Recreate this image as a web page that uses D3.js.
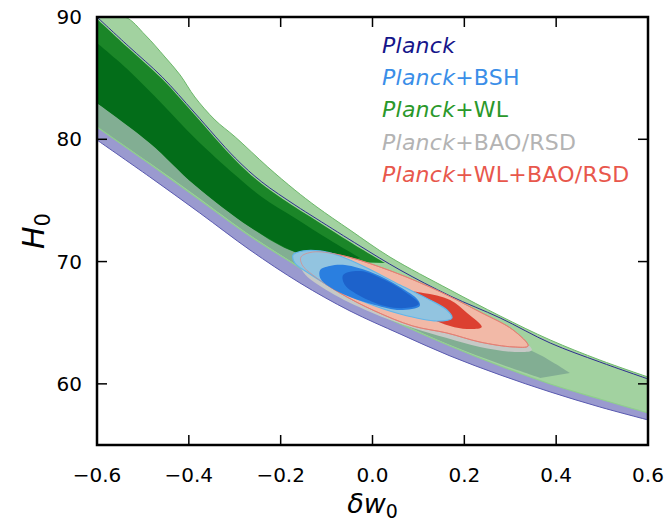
<!DOCTYPE html>
<html><head><meta charset="utf-8">
<script src="https://cdn.jsdelivr.net/npm/d3@7"></script>
<style>
html,body{margin:0;padding:0;background:#fff;}
svg{display:block;font-family:"DejaVu Sans",sans-serif;}
</style></head>
<body>
<svg id="chart" width="665" height="526"></svg>
<script>
// ---------- data (δw0, H0) ----------
const xTicks = [-0.6, -0.4, -0.2, 0.0, 0.2, 0.4, 0.6];
const yTicks = [60, 70, 80, 90];
const legendLabels = ["Planck", "Planck+BSH", "Planck+WL", "Planck+BAO/RSD", "Planck+WL+BAO/RSD"];

// Planck 2σ band
const planckUpper = [[-0.600,90.00],[-0.532,87.63],[-0.458,85.09],[-0.387,82.15],[-0.299,78.47],[-0.241,76.51],[-0.169,74.63],[-0.121,73.48],[-0.027,71.27],[0.060,69.31],[0.169,67.19],[0.278,65.39],[0.387,63.34],[0.495,61.79],[0.600,60.40]];
const planckLower = [[-0.600,79.94],[-0.485,76.92],[-0.376,73.97],[-0.267,70.95],[-0.158,68.25],[-0.049,65.96],[0.060,64.08],[0.169,62.28],[0.278,60.73],[0.387,59.34],[0.495,58.11],[0.600,57.05]];
// Planck+WL 2σ band
const wlUpper = [[-0.600,90.00],[-0.539,90.00],[-0.495,88.53],[-0.452,86.73],[-0.419,85.26],[-0.387,83.46],[-0.343,81.58],[-0.299,80.19],[-0.228,77.73],[-0.169,75.85],[-0.121,74.46],[-0.049,72.58],[0.038,70.37],[0.169,67.68],[0.278,65.55],[0.387,63.59],[0.495,61.95],[0.600,60.56]];
const wlLower = [[-0.600,81.01],[-0.485,77.98],[-0.376,75.04],[-0.267,72.09],[-0.158,69.48],[-0.049,66.86],[0.060,64.90],[0.169,63.10],[0.278,61.46],[0.387,59.99],[0.495,58.76],[0.600,57.62]];
// Planck+BAO/RSD region
const baoUpper = [[-0.600,82.97],[-0.485,79.70],[-0.387,76.26],[-0.267,72.83],[-0.169,70.78],[-0.049,68.49],[0.060,66.86],[0.169,65.06],[0.278,63.75],[0.365,62.36],[0.430,60.89]];
const baoLower = [[-0.600,81.01],[-0.485,78.06],[-0.387,75.44],[-0.267,72.17],[-0.158,69.56],[-0.049,66.94],[0.060,64.98],[0.169,63.18],[0.278,61.62],[0.365,60.48]];
// Planck+WL 1σ
const wlMidUpper = [[-0.600,89.84],[-0.532,87.47],[-0.458,84.93],[-0.387,81.99],[-0.299,78.31],[-0.241,76.34],[-0.169,74.46],[-0.121,73.32],[-0.049,71.60],[0.027,69.88]];
const wlMidLower = [[-0.600,82.97],[-0.485,79.70],[-0.387,76.26],[-0.267,72.83],[-0.169,70.78],[-0.049,69.97]];
const wlDarkUpper = [[-0.600,87.87],[-0.532,85.67],[-0.458,82.89],[-0.387,80.11],[-0.299,77.08],[-0.241,75.28],[-0.169,73.56],[-0.093,71.76],[-0.027,70.29]];
const wlDarkLower = [[-0.600,82.97],[-0.485,79.70],[-0.387,76.26],[-0.267,72.83],[-0.169,70.78],[-0.093,69.97]];
// Planck+BAO/RSD light outer strip
const baoOuter = [[-0.158,70.29],[0.016,69.31],[0.169,66.86],[0.306,64.16],[0.347,62.77],[0.310,62.61],[0.234,63.02],[0.162,63.75],[0.088,64.57],[-0.005,65.88],[-0.093,67.51],[-0.151,69.15]];
// Planck+WL+BAO/RSD
const combo2 = [[-0.156,70.37],[-0.130,70.78],[-0.071,70.54],[0.016,69.56],[0.125,67.92],[0.234,65.88],[0.306,64.41],[0.339,63.10],[0.306,63.02],[0.234,63.42],[0.162,64.16],[0.088,64.73],[0.005,65.96],[-0.071,67.43],[-0.130,68.90],[-0.153,69.72]];
const combo1 = [[0.060,67.51],[0.110,67.43],[0.169,66.86],[0.206,65.80],[0.238,64.65],[0.206,64.49],[0.169,64.73],[0.125,65.39],[0.082,66.45]];
// Planck+BSH
const bsh2 = [[-0.173,70.54],[-0.151,70.87],[-0.114,70.87],[-0.071,70.46],[-0.012,69.48],[0.060,68.08],[0.125,66.86],[0.162,66.04],[0.173,65.39],[0.140,65.14],[0.060,65.71],[-0.012,66.61],[-0.086,67.84],[-0.143,69.15],[-0.169,69.88]];
const bsh1 = [[-0.114,69.31],[-0.093,69.64],[-0.060,69.72],[0.001,69.07],[0.060,67.92],[0.099,66.86],[0.103,66.37],[0.060,66.04],[0.005,66.45],[-0.049,67.10],[-0.093,67.92],[-0.114,68.66]];
const bsh1Core = [[-0.064,68.90],[-0.027,69.23],[0.027,68.49],[0.071,67.51],[0.101,66.53],[0.071,66.20],[0.027,66.37],[-0.027,67.19],[-0.060,68.08]];

// ---------- layout ----------
const W = 665, H = 526;
const m = {left: 97, right: 17, top: 17, bottom: 81};
const svg = d3.select("#chart");
const x = d3.scaleLinear().domain([-0.6, 0.6]).range([m.left, W - m.right]);
const y = d3.scaleLinear().domain([55, 90]).range([H - m.bottom, m.top]);

svg.append("clipPath").attr("id", "clip").append("rect")
  .attr("x", m.left).attr("y", m.top)
  .attr("width", W - m.left - m.right).attr("height", H - m.top - m.bottom);

const g = svg.append("g").attr("clip-path", "url(#clip)");
const openLine = d3.line().x(d => x(d[0])).y(d => y(d[1])).curve(d3.curveCatmullRom.alpha(0.5));
const closedLine = d3.line().x(d => x(d[0])).y(d => y(d[1])).curve(d3.curveCatmullRomClosed.alpha(0.5));
function band(upper, lower) {
  return openLine(upper) + openLine(lower.slice().reverse()).replace(/^M/, "L") + "Z";
}

// Planck
g.append("path").attr("d", band(planckUpper, planckLower)).attr("fill", "#9a9acf");
// WL 2σ
g.append("path").attr("d", band(wlUpper, wlLower)).attr("fill", "#a2d2a0");
// BAO/RSD
g.append("path").attr("d", band(baoUpper, baoLower)).attr("fill", "#82ae93");
// WL 1σ
g.append("path").attr("d", band(wlMidUpper, wlMidLower)).attr("fill", "#1b8628");
g.append("path").attr("d", band(wlDarkUpper, wlDarkLower)).attr("fill", "#036d19");
// outlines
g.append("path").attr("d", openLine(wlUpper)).attr("fill", "none").attr("stroke", "#6cb86a").attr("stroke-width", 1);
g.append("path").attr("d", openLine(wlLower)).attr("fill", "none").attr("stroke", "#8fcf8c").attr("stroke-width", 1.2);
g.append("path").attr("d", openLine(planckUpper)).attr("fill", "none").attr("stroke", "#2e2e8e").attr("stroke-width", 1);
g.append("path").attr("d", openLine(planckLower)).attr("fill", "none").attr("stroke", "#5a5ab0").attr("stroke-width", 1);

// BAO/RSD outer strip
g.append("path").attr("d", closedLine(baoOuter)).attr("fill", "#c6c9c6");
// WL+BAO/RSD
g.append("path").attr("d", closedLine(combo2)).attr("fill", "#f2b9a7").attr("stroke", "#e57566").attr("stroke-width", 1);
g.append("path").attr("d", closedLine(combo1)).attr("fill", "#dc4031");
// BSH
g.append("path").attr("d", closedLine(bsh2)).attr("fill", "#92c4e0").attr("stroke", "#62b6ea").attr("stroke-width", 1.2);
g.append("path").attr("d", closedLine(combo2)).attr("fill", "none").attr("stroke", "#e4837a").attr("stroke-width", 0.8).attr("stroke-opacity", 0.8);
g.append("path").attr("d", closedLine(bsh1)).attr("fill", "#2a7fe0");
g.append("path").attr("d", closedLine(bsh1Core)).attr("fill", "#1d62cb");

// ---------- axes ----------
const fmt = d3.format(".1f");
const tickLen = 10;
const axesG = svg.append("g");
xTicks.forEach(t => {
  axesG.append("line").attr("x1", x(t)).attr("x2", x(t)).attr("y1", y(55)).attr("y2", y(55) - tickLen).attr("stroke", "#000").attr("stroke-width", 1.5);
  axesG.append("line").attr("x1", x(t)).attr("x2", x(t)).attr("y1", y(90)).attr("y2", y(90) + tickLen).attr("stroke", "#000").attr("stroke-width", 1.5);
  axesG.append("text").attr("x", x(t)).attr("y", y(55) + 37).attr("text-anchor", "middle")
    .attr("font-size", 20).attr("fill", "#000").text(fmt(t));
});
yTicks.forEach(t => {
  axesG.append("line").attr("x1", x(-0.6)).attr("x2", x(-0.6) + tickLen).attr("y1", y(t)).attr("y2", y(t)).attr("stroke", "#000").attr("stroke-width", 1.5);
  axesG.append("line").attr("x1", x(0.6)).attr("x2", x(0.6) - tickLen).attr("y1", y(t)).attr("y2", y(t)).attr("stroke", "#000").attr("stroke-width", 1.5);
  axesG.append("text").attr("x", x(-0.6) - 15).attr("y", y(t) + 7).attr("text-anchor", "end")
    .attr("font-size", 20).attr("fill", "#000").text(d3.format("d")(t));
});
axesG.append("rect").attr("x", m.left).attr("y", m.top)
  .attr("width", W - m.left - m.right).attr("height", H - m.top - m.bottom)
  .attr("fill", "none").attr("stroke", "#000").attr("stroke-width", 2.5);

// axis titles
const xt = svg.append("text").attr("x", x(0)).attr("y", 513).attr("text-anchor", "middle")
  .attr("font-size", 27).attr("fill", "#000");
xt.append("tspan").attr("font-style", "italic").text("δw");
xt.append("tspan").attr("font-size", 19).attr("dy", 5).text("0");

const yt = svg.append("text").attr("transform", `translate(44,${y(72.5)}) rotate(-90)`).attr("text-anchor", "middle")
  .attr("font-size", 30).attr("fill", "#000");
yt.append("tspan").attr("font-style", "italic").text("H");
yt.append("tspan").attr("font-size", 21).attr("dy", 6).text("0");

// ---------- legend ----------
const legendColors = ["#15158a", "#3a8ee8", "#2a982a", "#b3b3b3", "#e8574c"];
const legendG = svg.append("g");
legendLabels.forEach((lab, i) => {
  const t = legendG.append("text").attr("x", 382).attr("y", 53 + i * 32.2)
    .attr("font-size", 22).attr("letter-spacing", 0.25).attr("fill", legendColors[i]);
  const parts = lab.split("+");
  t.append("tspan").attr("font-style", "italic").text(parts[0]);
  if (parts.length > 1) t.append("tspan").text("+" + parts.slice(1).join("+"));
});
</script>
</body></html>
